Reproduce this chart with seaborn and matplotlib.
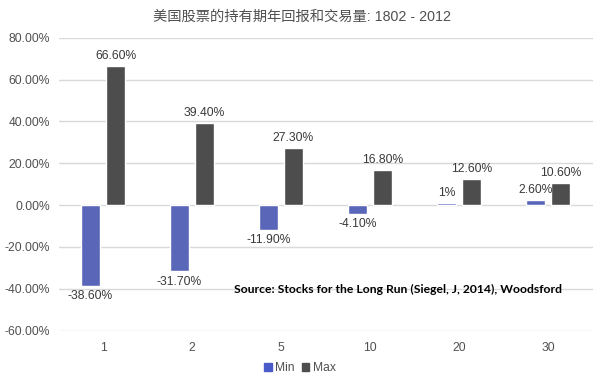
import pandas as pd
import matplotlib
matplotlib.use("Agg")
import matplotlib.pyplot as plt
import seaborn as sns

periods = ["1", "2", "5", "10", "20", "30"]
min_vals = [-38.6, -31.7, -11.9, -4.1, 1.0, 2.6]
max_vals = [66.6, 39.4, 27.3, 16.8, 12.6, 10.6]
min_labels = ["-38.60%", "-31.70%", "-11.90%", "-4.10%", "1%", "2.60%"]
max_labels = ["66.60%", "39.40%", "27.30%", "16.80%", "12.60%", "10.60%"]
yticks = [80, 60, 40, 20, 0, -20, -40, -60]

sns.set_theme(style="white")
plt.rcParams["font.family"] = ["Liberation Sans", "Noto Sans CJK SC", "DejaVu Sans"]
grey = "#505050"

data = pd.DataFrame({
    "period": periods * 2,
    "series": ["Min"] * 6 + ["Max"] * 6,
    "value": min_vals + max_vals,
})

fig = plt.figure(figsize=(6, 3.81), dpi=100)
ax = fig.add_axes([0.0975, 0.132, 0.89, 0.769])
sns.barplot(data=data, x="period", y="value", hue="series", order=periods,
            palette={"Min": "#4A5AC8", "Max": "#4D4D4D"}, width=0.56, gap=0.24,
            ax=ax, legend=False, zorder=3)

ax.set_ylim(-60, 80)
ax.set_xlim(-0.5, 5.5)
ax.set_yticks(yticks)
ax.set_yticklabels([f"{t:.2f}%" for t in yticks], color=grey, fontsize=8.7)
ax.tick_params(axis="x", colors=grey, labelsize=8.7, length=0, pad=8)
ax.tick_params(axis="y", length=0, pad=6)
ax.set_xlabel("")
ax.set_ylabel("")
ax.grid(axis="y", color="#d9d9d9", linewidth=1, zorder=0)
for s in ax.spines.values():
    s.set_visible(False)

ax.bar_label(ax.containers[0], labels=min_labels, padding=3, fontsize=8.7, color="#3a3a3a")
ax.bar_label(ax.containers[1], labels=max_labels, padding=3, fontsize=8.7, color="#3a3a3a")

fig.text(0.503, 0.955, "美国股票的持有期年回报和交易量: 1802 - 2012", ha="center", va="center",
         fontsize=10.3, color=grey, fontweight="medium")
ax.text(0.636, 0.142, "Source: Stocks for the Long Run (Siegel, J, 2014), Woodsford",
        transform=ax.transAxes, ha="center", va="center", fontsize=8.7,
        fontweight="bold", color="black", family=["Lato", "DejaVu Sans"])

handles = [plt.Rectangle((0, 0), 1, 1, color="#4A5AC8"), plt.Rectangle((0, 0), 1, 1, color="#4D4D4D")]
leg = fig.legend(handles, ["Min", "Max"], loc="lower center", bbox_to_anchor=(0.5, -0.01), ncol=2,
                 frameon=False, handlelength=0.6, handleheight=0.6, handletextpad=0.3,
                 columnspacing=0.6, fontsize=8.7)
for t in leg.get_texts():
    t.set_color(grey)

fig.savefig("out.png", dpi=100)
